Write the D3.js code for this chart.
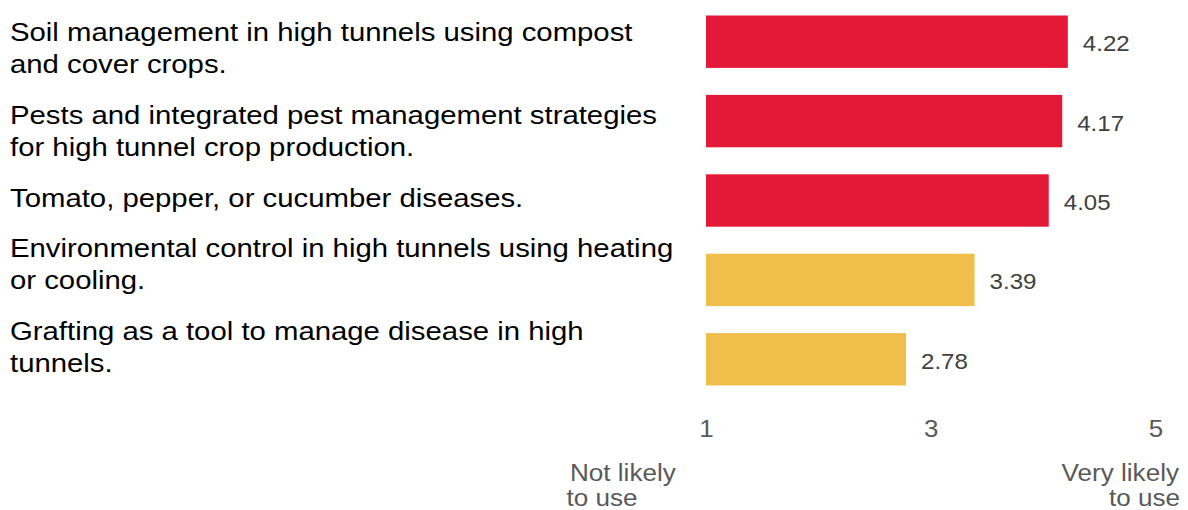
<!DOCTYPE html>
<html>
<head>
<meta charset="utf-8">
<script src="https://d3js.org/d3.v7.min.js"></script>
<style>
  body { margin: 0; background: #fff; }
  text { font-family: "Liberation Sans", Arial, sans-serif; }
</style>
</head>
<body>
<div id="canvas"></div>
<script>
  // Data
  var categories = [
    "Soil management in high tunnels using compost\nand cover crops.",
    "Pests and integrated pest management strategies\nfor high tunnel crop production.",
    "Tomato, pepper, or cucumber diseases.",
    "Environmental control in high tunnels using heating\nor cooling.",
    "Grafting as a tool to manage disease in high\ntunnels."
  ];
  var values = [4.22, 4.17, 4.05, 3.39, 2.78];
  var groups = ["high", "high", "high", "low", "low"];
  var ticks = [1, 3, 5];
  var endLabels = [["Not likely", "to use"], ["Very likely", "to use"]];

  var width = 1188, height = 510;
  var svg = d3.select("#canvas").append("svg")
    .attr("width", width)
    .attr("height", height);

  var x = d3.scaleLinear().domain([1, 5]).range([706, 1155.5]);
  var y = d3.scaleBand().domain(d3.range(values.length)).range([2, 399]).paddingInner(0.34).paddingOuter(0.17);

  var color = d3.scaleOrdinal().domain(["high", "low"]).range(["#e31937", "#f0be4a"]);

  // text in the source is a bit wide, stretch it horizontally
  var stretch = 1.15;

  // bars
  svg.append("g").selectAll("rect")
    .data(values)
    .join("rect")
      .attr("x", x(1))
      .attr("y", function(d, i) { return y(i); })
      .attr("width", function(d) { return x(d) - x(1); })
      .attr("height", y.bandwidth())
      .attr("fill", function(d, i) { return color(groups[i]); });

  // value labels
  svg.append("g").selectAll("text")
    .data(values)
    .join("text")
      .attr("transform", function(d, i) {
        return "translate(" + (x(d) + 15) + "," + (y(i) + y.bandwidth() / 2 + 9.5) + ") scale(1.08,1)";
      })
      .attr("font-size", 22.3)
      .attr("fill", "#404040")
      .text(function(d) { return d.toFixed(2); });

  // category labels, flowing like paragraphs
  var lineH = 32, paraGap = 50.8;
  var base = 41;
  var catG = svg.append("g").attr("transform", "translate(10,0) scale(" + stretch + ",1)");
  categories.forEach(function(c, i) {
    var lines = c.split("\n");
    var t = catG.append("text").attr("font-size", 25.5).attr("fill", "#000");
    lines.forEach(function(l, k) {
      t.append("tspan").attr("x", 0).attr("y", base + k * lineH).text(l);
    });
    base += (lines.length - 1) * lineH + paraGap;
  });

  // x axis (labels only)
  var axis = svg.append("g")
    .attr("transform", "translate(0,436.5)")
    .call(d3.axisBottom(x).tickValues(ticks).tickFormat(d3.format("d")).tickSize(0).tickPadding(0));
  axis.select(".domain").remove();
  axis.selectAll(".tick text")
    .attr("font-size", 24)
    .attr("font-family", "Liberation Sans, Arial, sans-serif")
    .attr("fill", "#595959")
    .attr("dy", 0)
    .attr("y", 0)
    .attr("x", 0)
    .attr("transform", "scale(1.08,1)");

  // scale end labels
  var ends = svg.append("g").attr("font-size", 23.3).attr("fill", "#595959");
  endLabels[0].forEach(function(l, k) {
    ends.append("text")
      .attr("text-anchor", "start")
      .attr("transform", "translate(" + (k === 0 ? 570 : 566.5) + "," + (480.5 + k * 25.5) + ") scale(1.12,1)")
      .text(l);
  });
  endLabels[1].forEach(function(l, k) {
    ends.append("text")
      .attr("text-anchor", "end")
      .attr("transform", "translate(" + (k === 0 ? 1179 : 1180) + "," + (480.5 + k * 25.5) + ") scale(1.12,1)")
      .text(l);
  });
</script>
</body>
</html>
